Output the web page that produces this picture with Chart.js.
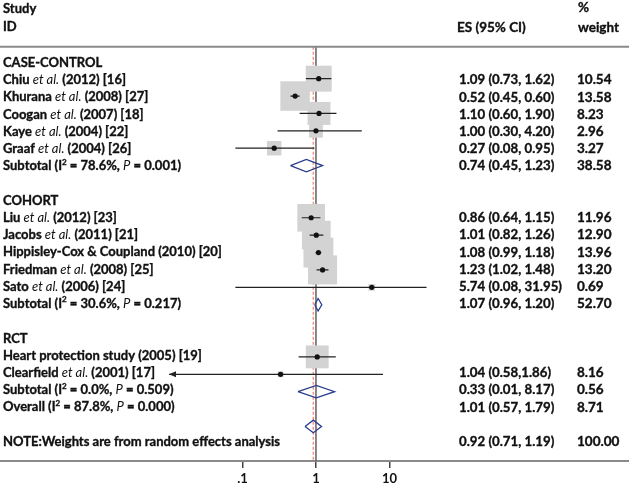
<!DOCTYPE html>
<html lang="en">
<head>
<meta charset="utf-8" />
<script src="https://cdn.jsdelivr.net/npm/chart.js@4.4.1/dist/chart.umd.min.js"></script>
<style>
  html, body { margin: 0; padding: 0; background: #fff; }
  #wrap { position: relative; width: 629px; height: 489px; }
</style>
</head>
<body>
<div id="wrap"><canvas id="forest"></canvas></div>

<script>
// ---- data ----
// left column: row number -> text  ({..} = italic, ^..^ = superscript)
const labelRows = [1, 2, 3, 4, 5, 6, 7, 9, 10, 11, 12, 13, 14, 15, 17, 18, 19, 20, 21, 23];
const labelTexts = [
  'CASE-CONTROL',
  'Chiu {et al.} (2012) [16]',
  'Khurana {et al.} (2008) [27]',
  'Coogan {et al.} (2007) [18]',
  'Kaye {et al.} (2004) [22]',
  'Graaf {et al.} (2004) [26]',
  'Subtotal (I^2^ = 78.6%, {P} = 0.001)',
  'COHORT',
  'Liu {et al.} (2012) [23]',
  'Jacobs {et al.} (2011) [21]',
  'Hippisley-Cox & Coupland (2010) [20]',
  'Friedman {et al.} (2008) [25]',
  'Sato {et al.} (2006) [24]',
  'Subtotal (I^2^ = 30.6%, {P} = 0.217)',
  'RCT',
  'Heart protection study (2005) [19]',
  'Clearfield {et al.} (2001) [17]',
  'Subtotal (I^2^ = 0.0%, {P} = 0.509)',
  'Overall (I^2^ = 87.8%, {P} = 0.000)',
  'NOTE:Weights are from random effects analysis'
];

// right columns (as printed)
const esRows = [2, 3, 4, 5, 6, 7, 10, 11, 12, 13, 14, 15, 19, 20, 21, 23];
const esTexts = [
  '1.09 (0.73, 1.62)', '0.52 (0.45, 0.60)', '1.10 (0.60, 1.90)', '1.00 (0.30, 4.20)',
  '0.27 (0.08, 0.95)', '0.74 (0.45, 1.23)',
  '0.86 (0.64, 1.15)', '1.01 (0.82, 1.26)', '1.08 (0.99, 1.18)', '1.23 (1.02, 1.48)',
  '5.74 (0.08, 31.95)', '1.07 (0.96, 1.20)',
  '1.04 (0.58,1.86)', '0.33 (0.01, 8.17)', '1.01 (0.57, 1.79)', '0.92 (0.71, 1.19)'
];
const weightTexts = [
  '10.54', '13.58', '8.23', '2.96', '3.27', '38.58',
  '11.96', '12.90', '13.96', '13.20', '0.69', '52.70',
  '8.16', '0.56', '8.71', '100.00'
];

// individual studies (boxes, CIs, point estimates)
const studyRows   = [2, 3, 4, 5, 6, 10, 11, 12, 13, 14, 18, 19];
const studyES     = [1.09, 0.52, 1.10, 1.00, 0.27, 0.86, 1.01, 1.08, 1.23, 5.74, 1.04, 0.33];
const studyLo     = [0.73, 0.45, 0.60, 0.30, 0.08, 0.64, 0.82, 0.99, 1.02, 0.08, 0.58, 0.01];
const studyHi     = [1.62, 0.60, 1.90, 4.20, 0.95, 1.15, 1.26, 1.18, 1.48, 31.95, 1.86, 8.17];
const studyWeight = [10.54, 13.58, 8.23, 2.96, 3.27, 11.96, 12.90, 13.96, 13.20, 0.69, 8.16, 0.56];
const studyArrowLo = [false, false, false, false, false, false, false, false, false, false, false, true];

// pooled estimates (diamonds)
const poolRows = [7, 15, 20, 22];
const poolES   = [0.74, 1.07, 1.01, 0.92];
const poolLo   = [0.45, 0.96, 0.57, 0.71];
const poolHi   = [1.23, 1.20, 1.79, 1.19];

const overallES = 0.92;
const nullValue = 1;

const xTicks = [0.1, 1, 10];
const xTickLabels = ['.1', '1', '10'];

// ---- layout ----
const Y_TOP = -2.523, Y_BOTTOM = 23.987, HEADER_ROW = 0.168;
const X_MIN = Math.pow(10, -4.3), X_MAX = Math.pow(10, 4.26);
const BOX_SCALE = 8;      // box side = BOX_SCALE * sqrt(weight)
const DIAMOND_H = 0.36;   // half height of diamonds, in rows
const FONT = 'Lato';
const TEXT_COL = '#111';

function textY(k) { return 62.7 + (k - 1) * 17.23; }

// segment lists for the line datasets
const ciData = [];
studyRows.forEach((r, i) => {
  ciData.push({x: studyLo[i], y: r}, {x: studyHi[i], y: r}, {x: studyHi[i], y: null});
});
const diamondData = [];
poolRows.forEach((r, i) => {
  diamondData.push(
    {x: poolLo[i], y: r}, {x: poolES[i], y: r - DIAMOND_H}, {x: poolHi[i], y: r},
    {x: poolES[i], y: r + DIAMOND_H}, {x: poolLo[i], y: r}, {x: poolLo[i], y: null});
});

// draws one line of mixed bold / italic / superscript text, stretched by sx
function drawRich(ctx, str, x, y, size, sx) {
  size = size || 13;
  const fonts = {
    b: 'bold ' + size + 'px ' + FONT,
    i: 'italic ' + size + 'px ' + FONT,
    s: 'bold ' + Math.round(size * 0.65) + 'px ' + FONT
  };
  ctx.save();
  ctx.translate(x, y);
  ctx.scale(sx || 1, 1);
  ctx.lineWidth = 0.35;
  ctx.strokeStyle = TEXT_COL;
  let mode = 'b', buf = '', cx = 0;
  const flush = () => {
    if (!buf) return;
    ctx.font = fonts[mode];
    const yy = mode === 's' ? -4 : 0;
    ctx.fillText(buf, cx, yy);
    if (mode !== 'i') ctx.strokeText(buf, cx, yy);
    cx += ctx.measureText(buf).width;
    buf = '';
  };
  for (const ch of str) {
    if (ch === '{') { flush(); mode = 'i'; }
    else if (ch === '}') { flush(); mode = 'b'; }
    else if (ch === '^') { flush(); mode = (mode === 's') ? 'b' : 's'; }
    else buf += ch;
  }
  flush();
  ctx.restore();
}

const forestText = {
  id: 'forestText',
  afterDatasetsDraw(chart) {
    const ctx = chart.ctx, xs = chart.scales.x, ys = chart.scales.y;
    ctx.save();
    // arrowheads for CIs running off the left
    ctx.fillStyle = '#222';
    studyRows.forEach((r, i) => {
      if (!studyArrowLo[i]) return;
      const px = xs.getPixelForValue(studyLo[i]), py = ys.getPixelForValue(r);
      ctx.beginPath();
      ctx.moveTo(px, py);
      ctx.lineTo(px + 7, py - 3);
      ctx.lineTo(px + 7, py + 3);
      ctx.closePath();
      ctx.fill();
    });
    // header rule
    const hy = ys.getPixelForValue(HEADER_ROW);
    ctx.strokeStyle = '#8a8a8a';
    ctx.lineWidth = 2;
    ctx.beginPath();
    ctx.moveTo(0, hy);
    ctx.lineTo(chart.width, hy);
    ctx.stroke();

    ctx.fillStyle = TEXT_COL;
    ctx.textBaseline = 'middle';
    ctx.textAlign = 'left';
    drawRich(ctx, 'Study', 3, 9, 13);
    drawRich(ctx, 'ID', 3, 27, 13);
    drawRich(ctx, 'ES (95% CI)', 457, 28, 13.5);
    drawRich(ctx, '%', 578, 8, 13.5);
    drawRich(ctx, 'weight', 578, 28, 13.5);

    labelRows.forEach((k, i) => drawRich(ctx, labelTexts[i], 3, textY(k), 13));
    esRows.forEach((k, i) => {
      drawRich(ctx, esTexts[i], 459, textY(k), 13.5, 0.98);
      drawRich(ctx, weightTexts[i], 577, textY(k), 13.5);
    });
    ctx.restore();
  }
};

const chart = new Chart(document.getElementById('forest'), {
  type: 'scatter',
  data: {
    datasets: [
      {
        type: 'line', label: 'no effect',
        data: [{x: nullValue, y: HEADER_ROW}, {x: nullValue, y: Y_BOTTOM}],
        borderColor: '#555', borderWidth: 1.4, pointRadius: 0, order: 10
      },
      {
        type: 'line', label: 'overall',
        data: [{x: overallES, y: HEADER_ROW}, {x: overallES, y: Y_BOTTOM}],
        borderColor: '#ef9a85', borderWidth: 1.5, borderDash: [3, 2], pointRadius: 0, order: 9
      },
      {
        label: 'weight',
        data: studyRows.map((r, i) => ({x: studyES[i], y: r})),
        pointStyle: 'rect',
        pointRadius: c => BOX_SCALE * Math.sqrt(studyWeight[c.dataIndex]) / Math.SQRT2,
        backgroundColor: '#d3d3d3', borderWidth: 0, order: 8
      },
      {
        type: 'line', label: 'CI',
        data: ciData, spanGaps: false,
        borderColor: '#222', borderWidth: 1.2, pointRadius: 0, order: 7
      },
      {
        type: 'line', label: 'pooled',
        data: diamondData, spanGaps: false, fill: false,
        borderColor: '#2b3c8e', borderWidth: 1.3, pointRadius: 0, order: 6
      },
      {
        label: 'ES',
        data: studyRows.map((r, i) => ({x: studyES[i], y: r})),
        pointRadius: 2.6, backgroundColor: '#111', borderWidth: 0, order: 5
      }
    ]
  },
  options: {
    responsive: true,
    maintainAspectRatio: false,
    animation: false,
    devicePixelRatio: 1,
    events: [],
    layout: { padding: 0, autoPadding: false },
    plugins: { legend: { display: false }, tooltip: { enabled: false } },
    scales: {
      x: {
        type: 'logarithmic',
        min: X_MIN, max: X_MAX,
        afterBuildTicks: s => { s.ticks = xTicks.map(v => ({value: v})); },
        ticks: {
          autoSkip: false, maxRotation: 0, padding: 4,
          color: TEXT_COL,
          font: { family: FONT, weight: 'bold', size: 13, lineHeight: 1 },
          callback: (v, i) => xTickLabels[i]
        },
        grid: { drawOnChartArea: false, drawTicks: true, tickLength: 7, color: '#444', lineWidth: 1.5 },
        border: { display: true, color: '#8a8a8a', width: 2 }
      },
      y: {
        type: 'linear', reverse: true,
        bounds: 'data',
        min: Y_TOP, max: Y_BOTTOM,
        afterBuildTicks: s => { s.min = Y_TOP; s.max = Y_BOTTOM; s.ticks = []; },
        display: false
      }
    }
  },
  plugins: [forestText]
});
</script>
</body>
</html>
